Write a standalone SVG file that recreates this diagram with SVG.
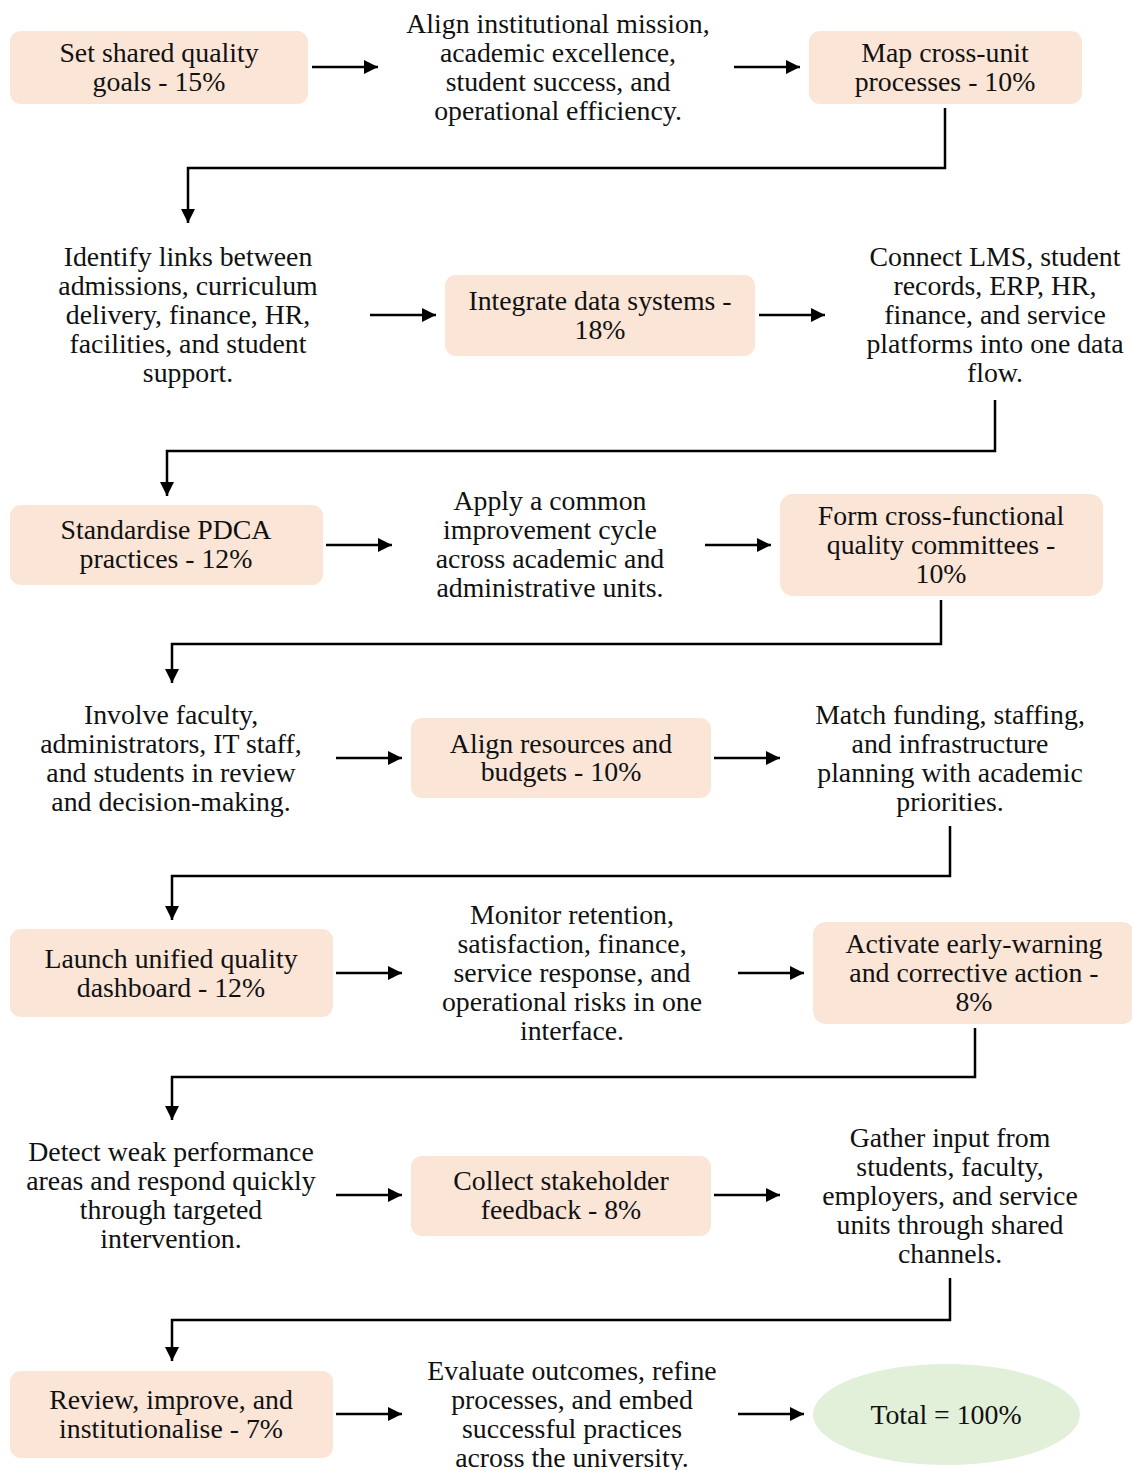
<svg xmlns="http://www.w3.org/2000/svg" width="1132" height="1470" viewBox="0 0 1132 1470">
<style>
text{font-family:"Liberation Serif","Times New Roman",serif;font-size:27.8px;fill:#111;text-anchor:middle}
.box{fill:#fae5d7}
.ell{fill:#e2efd9}
.con{fill:none;stroke:#000;stroke-width:2.5;marker-end:url(#ah)}
</style>
<defs>
<marker id="ah" viewBox="0 0 10 10" refX="10" refY="5" markerUnits="userSpaceOnUse" markerWidth="15" markerHeight="14" orient="auto">
<path d="M0,0 L10,5 L0,10 z" fill="#000"/>
</marker>
</defs>
<rect width="1132" height="1470" fill="#fff"/>

<g id="n1"><rect class="box" x="10" y="31" width="298" height="73" rx="11"/>
<text x="159" y="62">Set shared quality</text><text x="159" y="91">goals - 15%</text></g>
<g id="n2"><text x="558" y="33">Align institutional mission,</text><text x="558" y="62">academic excellence,</text><text x="558" y="91">student success, and</text><text x="558" y="120">operational efficiency.</text></g>
<g id="n3"><rect class="box" x="809" y="31" width="273" height="73" rx="11"/>
<text x="945" y="62">Map cross-unit</text><text x="945" y="91">processes - 10%</text></g>

<g id="n4"><text x="188" y="266">Identify links between</text><text x="188" y="295">admissions, curriculum</text><text x="188" y="324">delivery, finance, HR,</text><text x="188" y="353">facilities, and student</text><text x="188" y="382">support.</text></g>
<g id="n5"><rect class="box" x="445" y="275" width="310" height="81" rx="11"/>
<text x="600" y="310">Integrate data systems -</text><text x="600" y="339">18%</text></g>
<g id="n6"><text x="995" y="266">Connect LMS, student</text><text x="995" y="295">records, ERP, HR,</text><text x="995" y="324">finance, and service</text><text x="995" y="353">platforms into one data</text><text x="995" y="382">flow.</text></g>

<g id="n7"><rect class="box" x="10" y="505" width="313" height="80" rx="11"/>
<text x="166" y="539">Standardise PDCA</text><text x="166" y="568">practices - 12%</text></g>
<g id="n8"><text x="550" y="510">Apply a common</text><text x="550" y="539">improvement cycle</text><text x="550" y="568">across academic and</text><text x="550" y="597">administrative units.</text></g>
<g id="n9"><rect class="box" x="780" y="494" width="323" height="102" rx="13"/>
<text x="941" y="525">Form cross-functional</text><text x="941" y="554">quality committees -</text><text x="941" y="583">10%</text></g>

<g id="n10"><text x="171" y="724">Involve faculty,</text><text x="171" y="753">administrators, IT staff,</text><text x="171" y="782">and students in review</text><text x="171" y="811">and decision-making.</text></g>
<g id="n11"><rect class="box" x="411" y="718" width="300" height="80" rx="11"/>
<text x="561" y="753">Align resources and</text><text x="561" y="781">budgets - 10%</text></g>
<g id="n12"><text x="950" y="724">Match funding, staffing,</text><text x="950" y="753">and infrastructure</text><text x="950" y="782">planning with academic</text><text x="950" y="811">priorities.</text></g>

<g id="n13"><rect class="box" x="10" y="929" width="323" height="88" rx="11"/>
<text x="171" y="968">Launch unified quality</text><text x="171" y="997">dashboard - 12%</text></g>
<g id="n14"><text x="572" y="924">Monitor retention,</text><text x="572" y="953">satisfaction, finance,</text><text x="572" y="982">service response, and</text><text x="572" y="1011">operational risks in one</text><text x="572" y="1040">interface.</text></g>
<g id="n15"><rect class="box" x="813" y="922" width="322" height="102" rx="13"/>
<text x="974" y="953">Activate early-warning</text><text x="974" y="982">and corrective action -</text><text x="974" y="1011">8%</text></g>

<g id="n16"><text x="171" y="1161">Detect weak performance</text><text x="171" y="1190">areas and respond quickly</text><text x="171" y="1219">through targeted</text><text x="171" y="1248">intervention.</text></g>
<g id="n17"><rect class="box" x="411" y="1156" width="300" height="80" rx="11"/>
<text x="561" y="1190">Collect stakeholder</text><text x="561" y="1219">feedback - 8%</text></g>
<g id="n18"><text x="950" y="1147">Gather input from</text><text x="950" y="1176">students, faculty,</text><text x="950" y="1205">employers, and service</text><text x="950" y="1234">units through shared</text><text x="950" y="1263">channels.</text></g>

<g id="n19"><rect class="box" x="10" y="1371" width="323" height="87" rx="11"/>
<text x="171" y="1409">Review, improve, and</text><text x="171" y="1438">institutionalise - 7%</text></g>
<g id="n20"><text x="572" y="1380">Evaluate outcomes, refine</text><text x="572" y="1409">processes, and embed</text><text x="572" y="1438">successful practices</text><text x="572" y="1467">across the university.</text></g>
<g id="n21"><ellipse class="ell" cx="946.5" cy="1414.5" rx="133.5" ry="50.5"/>
<text x="946" y="1424">Total = 100%</text></g>

<g id="connectors">
<path class="con" d="M312,67 H378"/>
<path class="con" d="M734,67 H800"/>
<path class="con" d="M945,108 V168 H188 V223"/>
<path class="con" d="M370,315 H436"/>
<path class="con" d="M759,315 H825"/>
<path class="con" d="M995,400 V451 H167 V496"/>
<path class="con" d="M326,545 H392"/>
<path class="con" d="M705,545 H771"/>
<path class="con" d="M941,600 V644 H172 V683"/>
<path class="con" d="M336,758 H402"/>
<path class="con" d="M714,758 H780"/>
<path class="con" d="M950,826 V876 H172 V920"/>
<path class="con" d="M336,973 H402"/>
<path class="con" d="M738,973 H804"/>
<path class="con" d="M975,1028 V1077 H172 V1120"/>
<path class="con" d="M336,1195 H402"/>
<path class="con" d="M714,1195 H780"/>
<path class="con" d="M950,1278 V1320 H172 V1361"/>
<path class="con" d="M336,1414 H402"/>
<path class="con" d="M738,1414 H804"/>
</g>
</svg>
